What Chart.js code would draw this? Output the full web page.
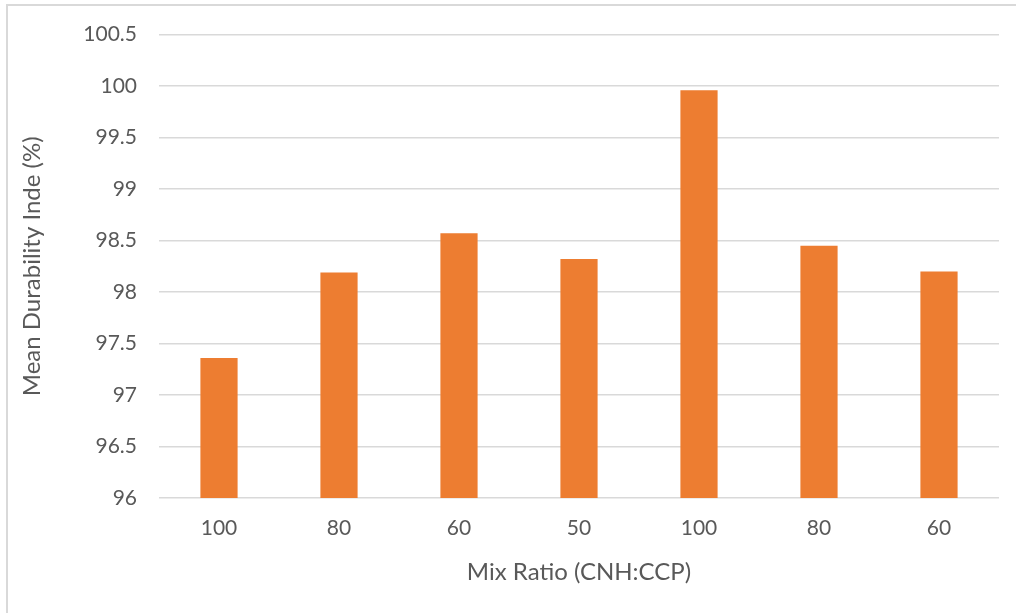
<!DOCTYPE html>
<html>
<head>
<meta charset="utf-8">
<script src="https://cdn.jsdelivr.net/npm/chart.js@4"></script>
<style>
  html, body { margin: 0; padding: 0; background: #fff; }
  #frame { position: absolute; left: 6px; top: 4px; width: 1100px; height: 700px; border: 2px solid #d9d9d9; }
  #wrap { position: absolute; left: 0; top: 0; width: 1016px; height: 613px; }
</style>
</head>
<body>
<div id="frame"></div>
<div id="wrap"><canvas id="chart"></canvas></div>
<script>
const mixLabels = ['100', '80', '60', '50', '100', '80', '60'];
const durability = [97.36, 98.19, 98.57, 98.32, 99.96, 98.45, 98.20];
const yMin = 96, yMax = 100.5, yStep = 0.5;

const FONT = 'Lato, "Open Sans", sans-serif';
const GREY = '#595959';

new Chart(document.getElementById('chart'), {
    type: 'bar',
    data: {
        labels: mixLabels,
        datasets: [{ data: durability, backgroundColor: '#ed7d31', borderWidth: 0, categoryPercentage: 1, barPercentage: 0.31 }]
    },
    options: {
        responsive: true,
        maintainAspectRatio: false,
        animation: false,
        layout: { padding: { left: 18, top: 18, right: 17, bottom: 18 } },
        plugins: { legend: { display: false }, tooltip: { enabled: false } },
        scales: {
            x: {
                grid: { display: false },
                border: { display: false },
                ticks: { color: GREY, font: { family: FONT, size: 21 }, padding: 10 },
                title: { display: true, text: 'Mix Ratio (CNH:CCP)', color: GREY, font: { family: FONT, size: 24 }, padding: { top: 4, bottom: 8 } },
                afterFit: s => { s.height = 97; }
            },
            y: {
                min: yMin, max: yMax,
                grid: { color: '#d9d9d9', lineWidth: 1.5, drawTicks: false },
                border: { display: false },
                ticks: { stepSize: yStep, color: GREY, font: { family: FONT, size: 21 }, padding: 22,
                    callback: v => String(Math.round(v * 10) / 10) },
                title: { display: true, text: 'Mean Durability Inde (%)', color: GREY, font: { family: FONT, size: 24 }, padding: 0 },
                afterFit: s => { s.width = 141; }
            }
        }
    }
});
</script>
</body>
</html>
